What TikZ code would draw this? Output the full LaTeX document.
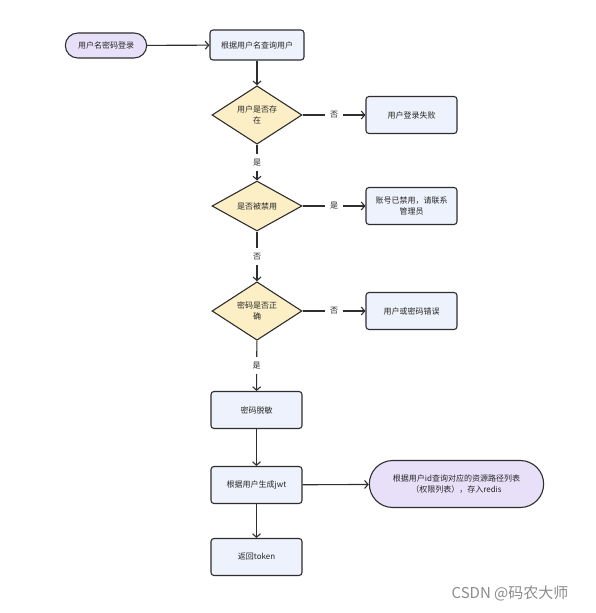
\documentclass[tikz,border=0pt]{standalone}
\usepackage{fontspec}
\setmainfont{Noto Sans CJK SC}
\usetikzlibrary{shapes.geometric,shapes.misc,arrows.meta}
\definecolor{line}{HTML}{2E2E2E}
\definecolor{pillfill}{HTML}{E7E0F8}
\definecolor{boxfill}{HTML}{EEF2FC}
\definecolor{condfill}{HTML}{FCEFC6}
\definecolor{mark}{HTML}{8C8C8C}
\begin{document}
\begin{tikzpicture}[x=1pt,y=-1pt,font=\fontsize{8}{11}\selectfont,
    term/.style={rounded rectangle, fill=pillfill},
    proc/.style={rectangle, rounded corners=3pt, fill=boxfill, minimum width=91pt, minimum height=37pt},
    cond/.style={diamond, fill=condfill, minimum width=90pt, minimum height=50pt, inner sep=0pt}]

        \useasboundingbox[fill=white] (0,0) rectangle (595,613);

        \begin{scope}[every node/.style={draw=line, line width=1.1pt, align=center, text=black!85}]
          \node[term, minimum width=88pt, minimum height=25pt] (1)  at (106,45.5) {用户名密码登录};
          \node[proc, minimum width=94pt, minimum height=30pt] (2)  at (257,45) {根据用户名查询用户};
          \node[cond] (3)  at (257,115) {用户是否存\\在};
          \node[proc] (4)  at (411.5,115) {用户登录失败};
          \node[cond] (5)  at (257,206) {是否被禁用};
          \node[proc] (6)  at (411.5,206) {账号已禁用，请联系\\管理员};
          \node[cond] (7)  at (257,311) {密码是否正\\确};
          \node[proc] (8)  at (411.5,311) {用户或密码错误};
          \node[proc] (9)  at (256.5,410) {密码脱敏};
          \node[proc] (10) at (256.5,485) {根据用户生成jwt};
          \node[term, minimum width=181pt, minimum height=47pt] (11) at (456.5,484) {根据用户id查询对应的资源路径列表\\（权限列表），存入redis};
          \node[proc] (12) at (256.5,557) {返回token};
        \end{scope}

        \begin{scope}[every node/.style={fill=white, inner sep=5pt, text=black!85}]

          \begin{scope}[every edge/.style={draw=line, line width=1.1pt, -{Straight Barb[length=3.5pt,width=8pt]}}]
            \path (1)  edge (2);
            \path (2)  edge (3);
            \path (3)  edge node {否} (4);
            \path (3)  edge node {是} (5);
            \path (5)  edge node {是} (6);
            \path (5)  edge node {否} (7);
            \path (7)  edge node {否} (8);
            \path (7)  edge node {是} (9);
            \path (9)  edge (10);
            \path (10) edge (11);
            \path (10) edge (12);
          \end{scope}
        \end{scope}

        \node[text=mark, font=\fontsize{15}{18}\selectfont] (13) at (510,593) {CSDN @码农大师};

      \end{tikzpicture}
\end{document}
